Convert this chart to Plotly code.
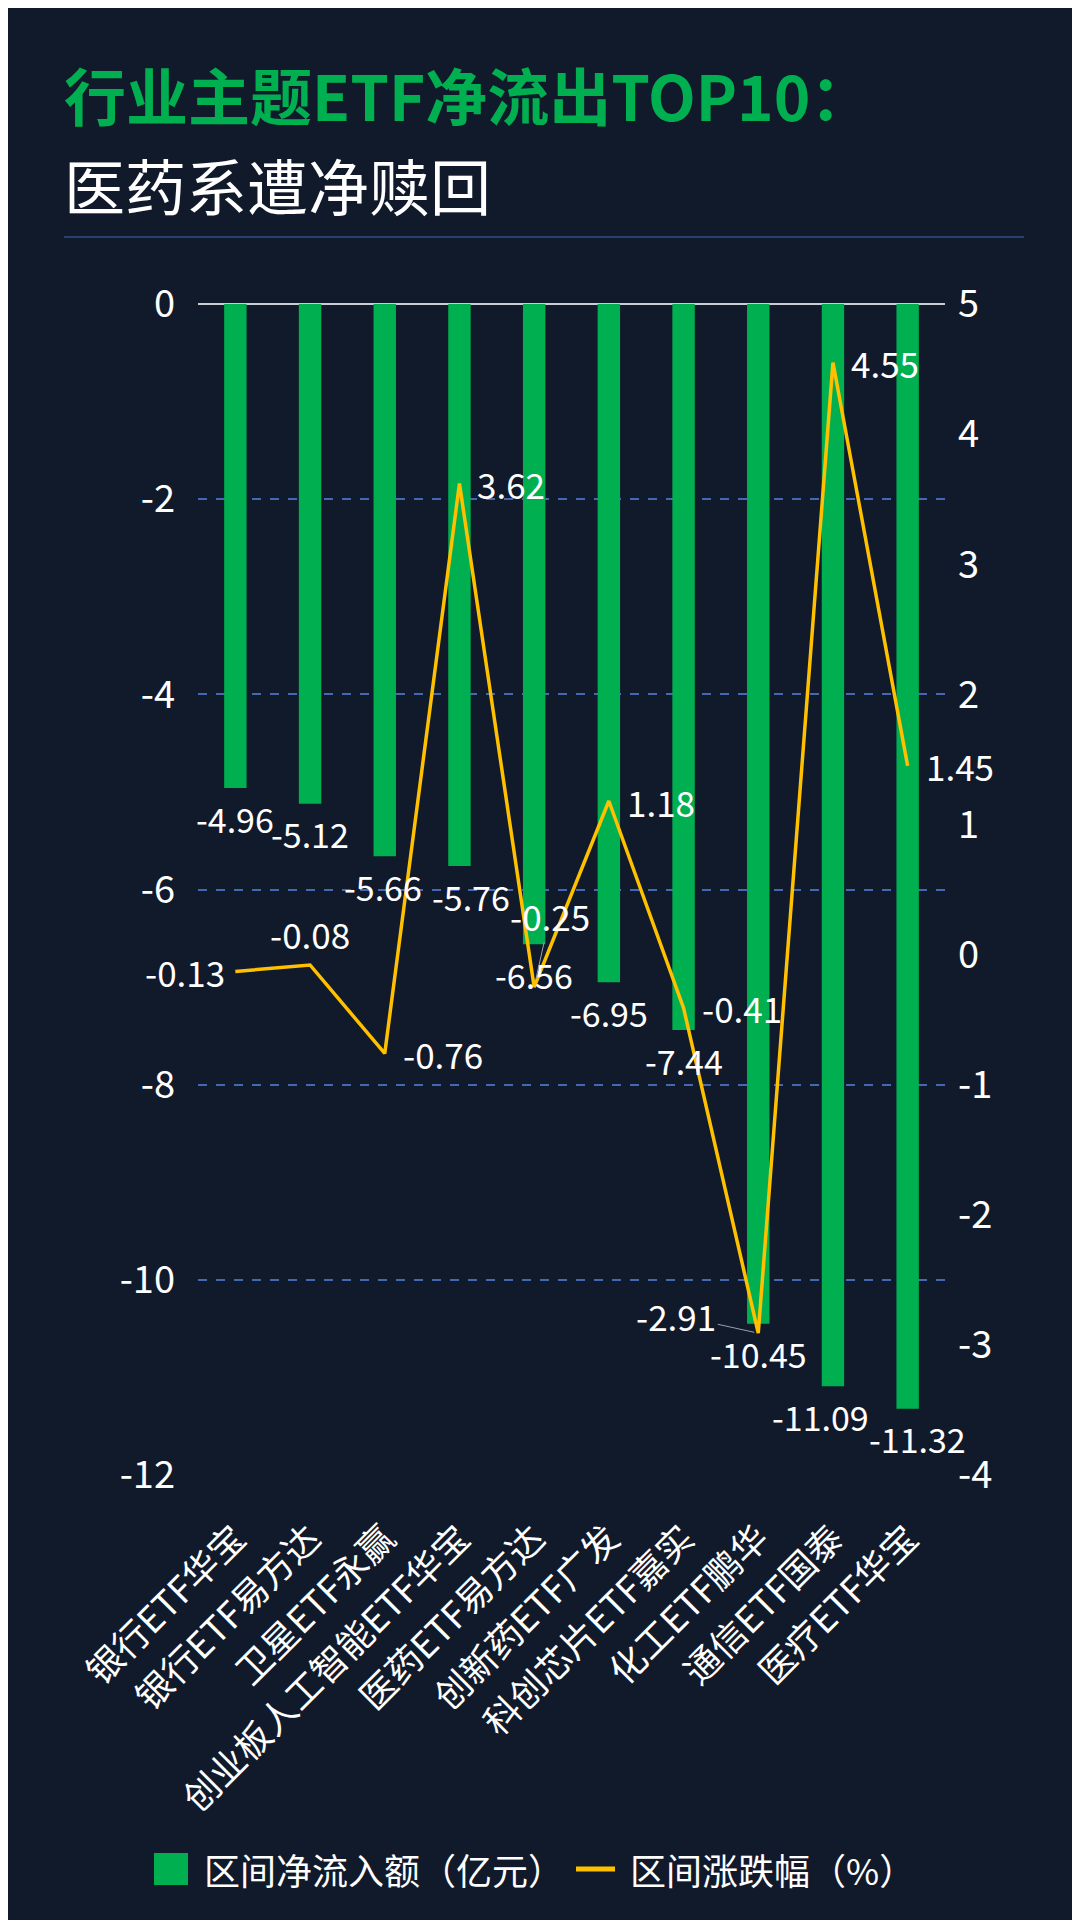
import plotly.graph_objects as go

# data
CATEGORIES = ['银行ETF华宝', '银行ETF易方达', '卫星ETF永赢', '创业板人工智能ETF华宝', '医药ETF易方达',
              '创新药ETF广发', '科创芯片ETF嘉实', '化工ETF鹏华', '通信ETF国泰', '医疗ETF华宝']
NET_FLOW = [-4.96, -5.12, -5.66, -5.76, -6.56, -6.95, -7.44, -10.45, -11.09, -11.32]
PCT_CHANGE = [-0.13, -0.08, -0.76, 3.62, -0.25, 1.18, -0.41, -2.91, 4.55, 1.45]
LEFT_TICKS = [0, -2, -4, -6, -8, -10, -12]
RIGHT_TICKS = [5, 4, 3, 2, 1, 0, -1, -2, -3, -4]
BAR_NAME = '区间净流入额（亿元）'
LINE_NAME = '区间涨跌幅（%）'

BG = '#111a2b'
GREEN = '#00b050'
GOLD = '#ffc000'
FONT = 'Noto Sans CJK SC'

# where each line label sits relative to its point
LABEL_STYLE = ['left', 'top', 'right', 'right', 'leader_up', 'right', 'right', 'leader_left', 'right', 'right']
# small sideways nudges of the bar labels (px), as in the original
BAR_LABEL_NUDGE = [0, 0, -2, 12, 0, 0, 0, 0, -12, 10]

W, H = 1080, 1920
L, R, T, B = 190, 143, 296, 453


def px_x(x):
    return (x - L) / (W - L - R)


def px_y(y):
    return (H - y - B) / (H - T - B)


fig = go.Figure()
fig.add_trace(go.Bar(x=CATEGORIES, y=NET_FLOW, name=BAR_NAME, marker_color=GREEN,
                     marker_line_width=0, width=0.3))
fig.add_trace(go.Scatter(x=CATEGORIES, y=PCT_CHANGE, name=LINE_NAME, mode='lines',
                         line=dict(color=GOLD, width=3.5), yaxis='y2', cliponaxis=False))

anns = []
for cat, v, dx in zip(CATEGORIES, NET_FLOW, BAR_LABEL_NUDGE):
    anns.append(dict(x=cat, y=v, xref='x', yref='y', text=f'{v:.2f}', showarrow=False,
                     yanchor='middle', yshift=-30, xshift=dx,
                     font=dict(color='white', size=34, family=FONT)))

for cat, v, style in zip(CATEGORIES, PCT_CHANGE, LABEL_STYLE):
    a = dict(x=cat, y=v, xref='x', yref='y2', text=f'{v:.2f}', showarrow=False,
             font=dict(color='white', size=35, family=FONT))
    if style == 'left':
        a.update(xanchor='right', xshift=-8)
    elif style == 'top':
        a.update(yanchor='bottom', yshift=4)
    elif style == 'right':
        a.update(xanchor='left', xshift=16)
    elif style == 'leader_up':
        a.update(showarrow=True, arrowhead=0, arrowcolor='#9aa0aa', arrowwidth=1,
                 ax=16, ay=-72, standoff=8)
    elif style == 'leader_left':
        a.update(showarrow=True, arrowhead=0, arrowcolor='#9aa0aa', arrowwidth=1,
                 ax=-82, ay=-18, standoff=4)
    anns.append(a)

# title block
anns.append(dict(x=px_x(54), y=px_y(86), xref='paper', yref='paper',
                 text='<b>行业主题ETF净流出TOP10：</b>', showarrow=False,
                 xanchor='left', yanchor='middle', font=dict(color=GREEN, size=62, family=FONT)))
anns.append(dict(x=px_x(54), y=px_y(176), xref='paper', yref='paper', text='医药系遭净赎回',
                 showarrow=False, xanchor='left', yanchor='middle',
                 font=dict(color='white', size=61, family=FONT)))

# legend drawn by hand so the swatches have the original's size
LEG_Y = 1861
anns.append(dict(x=px_x(194), y=px_y(LEG_Y), xref='paper', yref='paper', text=BAR_NAME,
                 showarrow=False, xanchor='left', yanchor='middle',
                 font=dict(color='white', size=36, family=FONT)))
anns.append(dict(x=px_x(620), y=px_y(LEG_Y), xref='paper', yref='paper', text=LINE_NAME,
                 showarrow=False, xanchor='left', yanchor='middle',
                 font=dict(color='white', size=36, family=FONT)))

shapes = [
    dict(type='line', xref='paper', yref='paper', x0=px_x(56), x1=px_x(1016),
         y0=px_y(229), y1=px_y(229), line=dict(color='#27406e', width=2)),
    dict(type='rect', xref='paper', yref='paper', x0=px_x(146), x1=px_x(180),
         y0=px_y(LEG_Y - 16), y1=px_y(LEG_Y + 16), fillcolor=GREEN, line=dict(width=0)),
    dict(type='line', xref='paper', yref='paper', x0=px_x(568), x1=px_x(607),
         y0=px_y(LEG_Y), y1=px_y(LEG_Y), line=dict(color=GOLD, width=5)),
]

fig.update_layout(
    width=W, height=H,
    paper_bgcolor=BG, plot_bgcolor=BG,
    margin=dict(l=L, r=R, t=T, b=B),
    font=dict(family=FONT, color='white'),
    showlegend=False,
    annotations=anns,
    shapes=shapes,
    xaxis=dict(range=[-0.5, 9.5], tickangle=-45, tickfont=dict(size=36, color='white', family=FONT),
               showgrid=False, showline=False, ticks='', ticklabelstandoff=34),
    yaxis=dict(range=[-12, 0], tickvals=LEFT_TICKS, ticktext=[str(v) for v in LEFT_TICKS],
               tickfont=dict(size=38, color='white', family=FONT),
               showgrid=True, gridcolor='#4369b5', gridwidth=1.5, griddash='dash',
               zeroline=True, zerolinecolor='#c9ccd3', zerolinewidth=2,
               ticklabelstandoff=22, showline=False),
    yaxis2=dict(range=[-4, 5], tickvals=RIGHT_TICKS, ticktext=[str(v) for v in RIGHT_TICKS],
                overlaying='y', side='right',
                tickfont=dict(size=38, color='white', family=FONT), showgrid=False,
                zeroline=False, ticklabelstandoff=12, showline=False),
)

fig.write_html("out.html")
